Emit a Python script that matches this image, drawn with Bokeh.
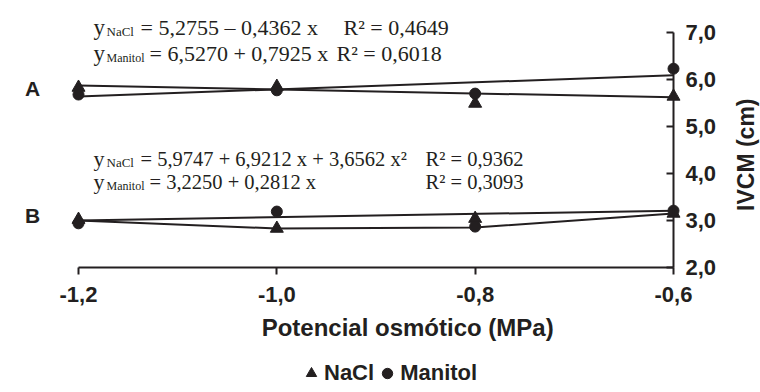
import math
from bokeh.plotting import figure
from bokeh.models import (Range1d, LinearAxis, FixedTicker, Label, Legend, LegendItem,
                          CustomJSTickFormatter)
from bokeh.embed import file_html
from bokeh.resources import INLINE

# ---------------- data ----------------
x_vals = [-1.2, -1.0, -0.8, -0.6]
x_ticks = [-1.2, -1.0, -0.8, -0.6]
y_ticks = [2, 3, 4, 5, 6, 7]

# panel A (upper)
a_nacl = [5.83, 5.85, 5.49, 5.64]
a_manitol = [5.68, 5.77, 5.70, 6.23]
# panel B (lower)
b_nacl = [3.02, 2.83, 3.04, 3.15]
b_manitol = [2.94, 3.19, 2.87, 3.21]

# trend lines
fit_x_ends = [-1.2, -0.6]
a_nacl_fit = [5.87, 5.62]
a_manitol_fit = [5.64, 6.09]
b_nacl_fit = [3.00, 2.83, 2.85, 3.15]
b_manitol_fit = [3.00, 3.21]

series_names = ["NaCl", "Manitol"]
x_title = "Potencial  osmótico (MPa)"
y_title = "IVCM (cm)"
panel_labels = ["A", "B"]
panel_label_y = [5.81, 3.11]

INK = "#231f20"
SANS = "Liberation Sans"
SERIF = "Liberation Serif"

# ---------------- layout: the frame covers the whole canvas ----------------
W, H = 760, 392
X0_PX, X1_PX = 78, 673      # pixel columns of x=-1.2 and x=-0.6
Y7_PX, Y2_PX = 32, 267      # pixel rows of y=7 and y=2
sx = (X1_PX - X0_PX) / (x_ticks[-1] - x_ticks[0])
sy = (Y2_PX - Y7_PX) / (y_ticks[-1] - y_ticks[0])
x_range = Range1d(x_ticks[0] - X0_PX / sx, x_ticks[-1] + (W - X1_PX) / sx)
y_range = Range1d(y_ticks[0] - (H - Y2_PX) / sy, y_ticks[-1] + Y7_PX / sy)

p = figure(width=W, height=H, frame_width=W, frame_height=H,
           x_range=x_range, y_range=y_range,
           output_backend="svg", toolbar_location=None,
           x_axis_location=None, y_axis_location=None, min_border=0)
p.outline_line_color = None
p.xgrid.grid_line_color = None
p.ygrid.grid_line_color = None

fmt = CustomJSTickFormatter(code="return tick.toFixed(1).replace('.', ',');")

xaxis = LinearAxis(ticker=FixedTicker(ticks=x_ticks), formatter=fmt,
                   fixed_location=y_ticks[0], bounds=(x_ticks[0], x_ticks[-1]))
xaxis.axis_line_width = 2
xaxis.axis_line_color = INK
xaxis.major_tick_line_width = 2
xaxis.major_tick_line_color = INK
xaxis.major_tick_in = 0
xaxis.major_tick_out = 7
xaxis.minor_tick_line_color = None
xaxis.major_label_standoff = 12
xaxis.major_label_text_font = SANS
xaxis.major_label_text_font_style = "bold"
xaxis.major_label_text_font_size = "22px"
xaxis.major_label_text_color = INK
p.add_layout(xaxis, "below")

yaxis = LinearAxis(ticker=FixedTicker(ticks=y_ticks), formatter=fmt,
                   fixed_location=x_ticks[-1], bounds=(y_ticks[0], y_ticks[-1]))
yaxis.axis_line_width = 2
yaxis.axis_line_color = INK
yaxis.major_tick_line_width = 2
yaxis.major_tick_line_color = INK
yaxis.major_tick_in = 7
yaxis.major_tick_out = 0
yaxis.minor_tick_line_color = None
yaxis.major_label_standoff = 12
yaxis.major_label_text_font = SANS
yaxis.major_label_text_font_style = "bold"
yaxis.major_label_text_font_size = "22px"
yaxis.major_label_text_color = INK
p.add_layout(yaxis, "right")

# trend lines
for xs, ys in [(fit_x_ends, a_nacl_fit), (fit_x_ends, a_manitol_fit),
               (x_vals, b_nacl_fit), (fit_x_ends, b_manitol_fit)]:
    p.line(xs, ys, line_color=INK, line_width=2)

# markers
tri_a = p.scatter(x_vals, a_nacl, marker="triangle", size=13, color=INK)
cir_a = p.scatter(x_vals, a_manitol, marker="circle", size=11, color=INK)
tri_b = p.scatter(x_vals, b_nacl, marker="triangle", size=13, color=INK)
cir_b = p.scatter(x_vals, b_manitol, marker="circle", size=11, color=INK)

legend = Legend(items=[LegendItem(label=series_names[0], renderers=[tri_a]),
                       LegendItem(label=series_names[1], renderers=[cir_a])],
                orientation="horizontal", location=(298, 6),
                border_line_color=None, background_fill_alpha=0,
                label_text_font=SANS, label_text_font_style="bold",
                label_text_font_size="22px", label_text_color=INK,
                glyph_width=26, glyph_height=26, label_standoff=0,
                spacing=0, padding=0, margin=0)
p.add_layout(legend)

# x axis title (centred a little right of the axis middle, as in the original)
p.add_layout(Label(x=(x_ticks[0] + x_ticks[-1]) / 2, y=y_ticks[0], x_offset=35, y_offset=-60,
                   text=x_title, text_align="center", text_baseline="middle",
                   text_font=SANS, text_font_style="bold", text_font_size="24px",
                   text_color=INK))

# y axis title (reads bottom to top)
p.add_layout(Label(x=x_ticks[-1], y=4.4, x_offset=72, text=y_title, angle=math.pi / 2,
                   text_align="center", text_baseline="middle",
                   text_font=SANS, text_font_style="bold", text_font_size="23px",
                   text_color=INK))

# panel letters
for lab, yy in zip(panel_labels, panel_label_y):
    p.add_layout(Label(x=x_ticks[0], y=yy, x_offset=-46, text=lab,
                       text_align="center", text_baseline="middle",
                       text_font=SANS, text_font_style="bold", text_font_size="21px",
                       text_color=INK))


def eq(px, base_y, text, size):
    p.add_layout(Label(x=x_ticks[0], y=y_ticks[-1], x_offset=px - X0_PX,
                       y_offset=Y7_PX - base_y,
                       text=text, text_font=SERIF, text_font_size=f"{size}px",
                       text_baseline="alphabetic", text_align="left",
                       text_color=INK))


# panel A equations
eq(93, 27, "y", 23); eq(106, 31, "NaCl", 13)
eq(140, 27, "= 5,2755 – 0,4362 x", 22); eq(343, 27, "R² = 0,4649", 22)
eq(93, 53, "y", 23); eq(106, 57, "Manitol", 12)
eq(149, 53, "= 6,5270 + 0,7925 x", 22); eq(336, 53, "R² = 0,6018", 22)
# panel B equations
eq(93, 158, "y", 22); eq(106, 162, "NaCl", 13)
eq(140, 158, "= 5,9747 + 6,9212 x +  3,6562 x²", 20.5); eq(425, 158, "R² = 0,9362", 20.5)
eq(93, 181, "y", 22); eq(106, 185, "Manitol", 12)
eq(149, 181, "= 3,2250 + 0,2812 x", 20.5); eq(425, 181, "R² = 0,3093", 20.5)

open("out.html", "w").write(file_html(p, INLINE))
